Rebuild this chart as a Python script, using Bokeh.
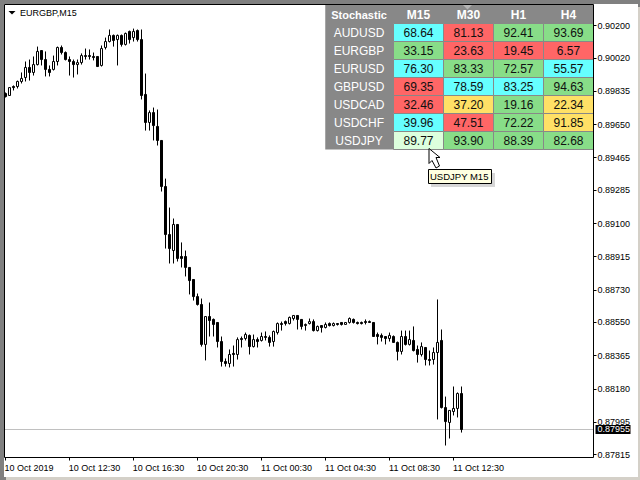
from bokeh.plotting import figure
from bokeh.models import Range1d, FixedTicker, NumeralTickFormatter, ColumnDataSource, LinearAxis
from bokeh.core.properties import value
from bokeh.embed import file_html
from bokeh.resources import INLINE

# Candle data, in price points (1e-5)
highs = [89829,89856,89868,89895,89940,90001,90012,90029,90084,90062,90057,89979,90034,90084,90090,90057,90029,90012,90012,90046,
         90073,90068,90051,90029,90090,90134,90179,90151,90151,90151,90162,90173,90184,90179,90179,89934,89729,89745,89734,89562,
         89350,89189,89128,89095,88995,88950,88856,88789,88711,88683,88583,88661,88572,88550,88472,88350,88400,88422,88467,88472,
         88494,88483,88483,88467,88494,88500,88478,88505,88550,88555,88561,88583,88589,88589,88567,88544,88572,88567,88533,88533,
         88550,88550,88550,88544,88550,88550,88578,88572,88555,88555,88567,88561,88550,88494,88489,88472,88494,88478,88444,88505,
         88505,88505,88528,88422,88439,88411,88394,88411,88678,88511,88138,88061,88194,88161,88194]
tops =  [89823,89856,89862,89890,89907,89968,89968,89984,90057,90062,90012,89957,90001,90079,90079,90051,90012,90001,89995,90034,
         90034,90034,90029,90029,90073,90112,90146,90146,90146,90146,90157,90168,90168,90173,90123,89818,89717,89717,89640,89562,
         89306,89039,89095,89095,88917,88917,88856,88789,88694,88650,88583,88583,88567,88550,88444,88333,88372,88378,88455,88461,
         88483,88478,88455,88455,88472,88472,88467,88500,88544,88544,88555,88578,88589,88589,88567,88539,88555,88555,88528,88533,
         88539,88544,88544,88544,88550,88550,88572,88567,88550,88550,88555,88555,88550,88483,88478,88472,88478,88472,88439,88472,
         88472,88455,88450,88400,88416,88411,88344,88383,88439,88450,88077,88061,88072,88155,88155]
bottoms=[89806,89812,89856,89862,89890,89912,89940,89940,89984,90012,89957,89940,89957,90001,90051,90012,90001,89984,89984,89995,
         90029,90029,90023,89973,89979,90079,90112,90118,90123,90096,90096,90123,90134,90123,89812,89662,89662,89645,89562,89306,
         89039,88961,88950,88906,88906,88856,88783,88694,88650,88428,88428,88561,88539,88444,88333,88322,88322,88372,88372,88455,
         88461,88416,88416,88444,88450,88467,88439,88444,88494,88539,88544,88544,88572,88567,88528,88533,88544,88505,88505,88522,
         88522,88533,88533,88539,88539,88539,88550,88550,88544,88544,88550,88550,88472,88472,88467,88461,88461,88439,88389,88389,
         88428,88428,88394,88372,88372,88344,88339,88344,88383,88077,87999,87994,88055,88072,87955]
lows =  [89801,89812,89840,89851,89879,89890,89895,89923,89979,89979,89918,89918,89951,89979,90040,90007,89923,89912,89929,89984,
         90012,90012,90007,89973,89973,90068,90107,90084,89979,90084,90090,90101,90112,90112,89790,89617,89617,89562,89534,89278,
         88961,88878,88878,88889,88856,88806,88706,88672,88644,88416,88339,88472,88472,88411,88305,88305,88300,88305,88344,88411,
         88450,88372,88411,88411,88444,88450,88416,88416,88483,88505,88533,88539,88561,88511,88511,88505,88539,88500,88500,88494,
         88517,88528,88528,88533,88533,88539,88544,88544,88539,88539,88539,88550,88472,88428,88444,88428,88444,88439,88339,88372,
         88422,88422,88389,88327,88361,88311,88311,88316,88011,88072,87866,87905,88033,88022,87938]
# 1 = bullish (white), 0 = bearish (black)
bullish = [0,1,0,1,1,1,0,1,1,0,0,0,1,1,0,0,0,0,1,1,
           0,0,0,0,1,1,1,0,1,0,1,0,1,0,0,0,1,0,0,0,
           0,0,1,0,0,0,0,0,0,0,1,0,0,0,0,0,1,0,1,0,
           1,0,1,0,1,0,0,1,1,0,0,1,1,0,0,1,1,0,1,0,
           1,0,1,0,0,1,1,0,0,0,0,0,0,0,0,0,1,0,0,1,
           0,1,0,0,1,0,0,1,1,0,0,1,1,1,0]
last_price = 0.87955

price_ticks = ["0.90200","0.90020","0.89835","0.89650","0.89465","0.89285","0.89100",
               "0.88915","0.88730","0.88550","0.88365","0.88180","0.87995","0.87815"]
time_tick_index = [0,16,32,48,64,80,96,112]
time_labels = ["10 Oct 2019","10 Oct 12:30","10 Oct 16:30","10 Oct 20:30",
               "11 Oct 00:30","11 Oct 04:30","11 Oct 08:30","11 Oct 12:30"]
# half the width of each label, in bars, so that the centred text starts at its tick
label_half_width = [5.75, 6.25, 6.25, 6.25, 6.25, 6.25, 6.25, 6.25]

# Stochastic table
symbols = ["AUDUSD","EURGBP","EURUSD","GBPUSD","USDCAD","USDCHF","USDJPY"]
timeframes = ["M15","M30","H1","H4"]
stoch = [[68.64,81.13,92.41,93.69],
         [33.15,23.63,19.45,6.57],
         [76.30,83.33,72.57,55.57],
         [69.35,78.59,83.25,94.63],
         [32.46,37.20,19.16,22.34],
         [39.96,47.51,72.22,91.85],
         [89.77,93.90,88.39,82.68]]
state = [["c","r","g","g"],
         ["g","r","r","r"],
         ["c","g","g","c"],
         ["r","c","c","g"],
         ["r","y","g","y"],
         ["c","r","g","y"],
         ["l","g","g","g"]]
palette = {"c":"#66FFFF","r":"#FF6666","g":"#88DD88","y":"#FFE066","l":"#DDFFDD"}

GREY = "#888888"
FONT = "Liberation Sans"

# The window's edges are shadows of the figure, which sits 4px in from the corner
p = figure(width=634, height=473, output_backend="svg", toolbar_location=None,
           x_range=Range1d(-0.25, 147), y_range=Range1d(0.8779930, 0.9031798),
           y_axis_location="right", min_border_left=0, min_border_right=45,
           min_border_top=0, min_border_bottom=20, outline_line_color=None,
           background_fill_color="white", border_fill_color="white",
           margin=(4, 0, 0, 4),
           styles={"box-shadow": "2px 3px 0 0 #D4D0C8, -4px -4px 0 0 #808080, -4px 3px 0 0 #808080, 2px -4px 0 0 #808080"})
p.grid.visible = False
p.extra_x_ranges = {"px": Range1d(4.5, 593.5), "tbl": Range1d(-8.28, 3.5)}
p.extra_y_ranges = {"px": Range1d(457.5, 4.5), "tbl": Range1d(23.6111, -1.5556)}
PX = dict(x_range_name="px", y_range_name="px")
TB = dict(x_range_name="tbl", y_range_name="tbl")

# Axes
ya = p.yaxis[0]
ya.ticker = FixedTicker(ticks=[float(t) for t in price_ticks])
ya.formatter = NumeralTickFormatter(format="0.00000")
ya.axis_line_color = "black"
ya.major_tick_line_color = "black"
ya.major_tick_in = 0
ya.major_tick_out = 3
ya.minor_tick_line_color = None
ya.minor_tick_in = 0
ya.minor_tick_out = 0
ya.major_label_standoff = 1
ya.major_label_text_font = FONT
ya.major_label_text_font_size = "9px"
ya.major_label_text_color = "black"

xa = p.xaxis[0]
xa.ticker = FixedTicker(ticks=time_tick_index)
xa.major_label_overrides = {i: "" for i in time_tick_index}
xa.major_label_standoff = 0
xa.axis_line_color = "black"
xa.major_tick_line_color = "black"
xa.major_tick_in = 0
xa.major_tick_out = 3
xa.minor_tick_line_color = None

label_positions = [t + h for t, h in zip(time_tick_index, label_half_width)]
xl = LinearAxis(ticker=FixedTicker(ticks=label_positions),
                major_label_overrides=dict(zip(label_positions, time_labels)),
                axis_line_color=None, major_tick_line_color=None, minor_tick_line_color=None,
                major_tick_in=0, major_tick_out=0, major_label_standoff=2,
                major_label_text_font=FONT, major_label_text_font_size="9px", major_label_text_color="black")
p.add_layout(xl, "below")

# Last price tag: a second right axis whose thick tick points back towards the chart
tag = LinearAxis(ticker=FixedTicker(ticks=[last_price]), formatter=NumeralTickFormatter(format="0.00000"),
                 axis_line_color=None, minor_tick_line_color=None, minor_tick_in=0, minor_tick_out=0,
                 major_tick_line_color="black", major_tick_line_width=9, major_tick_in=38, major_tick_out=-3,
                 major_label_standoff=-36, major_label_text_font=FONT, major_label_text_font_size="9px",
                 major_label_text_color="white")
p.add_layout(tag, "right")

# Black frame lines on the two sides without a scale
for side in ("left", "above"):
    p.add_layout(LinearAxis(ticker=FixedTicker(ticks=[]), axis_line_color="black",
                            major_tick_line_color=None, minor_tick_line_color=None,
                            major_tick_in=0, major_tick_out=0, minor_tick_in=0, minor_tick_out=0,
                            major_label_standoff=0), side)

# Last price line
p.segment(x0=[-0.25], x1=[147], y0=[last_price], y1=[last_price], line_color="#C0C0C0", line_width=1)

# Candles
idx = list(range(len(highs)))
wicks = ColumnDataSource(dict(x=idx, high=[v / 1e5 for v in highs], low=[v / 1e5 for v in lows]))
bodies = ColumnDataSource(dict(
    xs=[[i - 0.25, i + 0.25, i + 0.25, i - 0.25] for i in idx],
    ys=[[t / 1e5, t / 1e5, b / 1e5, b / 1e5] for t, b in zip(tops, bottoms)],
    fill=["white" if b else "black" for b in bullish],
))
p.segment(x0="x", x1="x", y0="high", y1="low", source=wicks, line_color="black", line_width=1)
p.patches(xs="xs", ys="ys", source=bodies, fill_color="fill", line_color="black", line_width=1)

# Table
p.quad(left=[-1.865], right=[3.5], top=[-1.6], bottom=[6.5], fill_color=GREY, line_color=None, **TB)
cx, cy, cf, ct = [], [], [], []
for r, row in enumerate(stoch):
    for c, v in enumerate(row):
        cx.append(c); cy.append(r); cf.append(palette[state[r][c]]); ct.append(f"{v:.2f}")
p.rect(x=cx, y=cy, width=1, height=1, fill_color=cf, line_color=GREY, line_width=1, **TB)
p.text(x=cx, y=cy, text=ct, text_align="center", text_baseline="middle", text_color="#101010",
       text_font=value(FONT), text_font_size="12px", **TB)
p.text(x=[-1.19] * len(symbols), y=list(range(len(symbols))), text=symbols, text_align="center",
       text_baseline="middle", text_color="white", text_font=value(FONT), text_font_size="12px", **TB)
p.text(x=list(range(len(timeframes))), y=[-1] * len(timeframes), text=timeframes, text_align="center",
       text_baseline="middle", text_color="white", text_font=value(FONT), text_font_style="bold",
       text_font_size="12px", **TB)
p.text(x=[-1.19], y=[-1], text=["Stochastic"], text_align="center", text_baseline="middle",
       text_color="white", text_font=value(FONT), text_font_style="bold", text_font_size="11px", **TB)

# Chart shift marker
p.patch(x=[463, 472, 467.5], y=[5, 5, 9.5], fill_color="#B4B4B4", line_color=None, **PX)

# Chart title
p.patch(x=[8.5, 15.5, 12], y=[11, 11, 14.5], fill_color="black", line_color=None, **PX)
p.text(x=[20], y=[12.8], text=["EURGBP,M15"], text_align="left", text_baseline="middle",
       text_color="black", text_font=value(FONT), text_font_size="9px", **PX)

# Mouse cursor
p.patch(x=[429, 429, 432, 436, 439.5, 436, 440], y=[148.5, 163.5, 160.5, 168, 166, 157.5, 157.5],
        fill_color="white", line_color="black", line_width=1, **PX)

# Tooltip
p.quad(left=[431], right=[495], top=[173], bottom=[187], fill_color="#BBBBBB", fill_alpha=0.6, line_color=None, **PX)
p.quad(left=[428.5], right=[491.5], top=[169.5], bottom=[183.5], fill_color="#FFFFE1", line_color="black", line_width=1, **PX)
p.text(x=[430], y=[176.8], text=["USDJPY M15"], text_align="left", text_baseline="middle",
       text_color="black", text_font=value(FONT), text_font_size="9.5px", **PX)

open("out.html", "w").write(file_html(p, INLINE))
